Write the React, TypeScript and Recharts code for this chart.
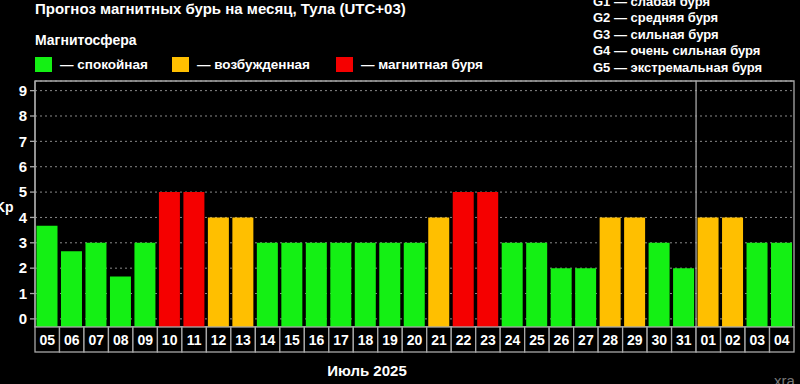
import {
  BarChart,
  Bar,
  XAxis,
  YAxis,
  CartesianGrid,
  Cell,
  ReferenceLine,
  ReferenceArea,
} from 'recharts';

const days = [
  '05', '06', '07', '08', '09', '10', '11', '12', '13', '14', '15', '16', '17', '18', '19', '20',
  '21', '22', '23', '24', '25', '26', '27', '28', '29', '30', '31', '01', '02', '03', '04',
];
const kp = [
  3.67, 2.67, 3, 1.67, 3, 5, 5, 4, 4, 3, 3, 3, 3, 3, 3, 3,
  4, 5, 5, 3, 3, 2, 2, 4, 4, 3, 2, 4, 4, 3, 3,
];
const yTicks = [0, 1, 2, 3, 4, 5, 6, 7, 8, 9];
const legendLabels = ['— спокойная', '— возбужденная', '— магнитная буря'];
const stormScale = [
  'G1 — слабая буря',
  'G2 — средняя буря',
  'G3 — сильная буря',
  'G4 — очень сильная буря',
  'G5 — экстремальная буря',
];
const monthBreakDay = '01'; // first day of the next month

const GREEN = '#14f014';
const ORANGE = '#ffbf00';
const RED = '#f50000';
const levelColors = [GREEN, ORANGE, RED];
const BORDER = '#a8a8a8';
const FONT = '"Liberation Sans", Arial, sans-serif';

const Y_MIN = -0.32;
const Y_MAX = 9.38;

const W = 800;
const H = 384;
const PLOT_LEFT = 35;
const PLOT_RIGHT = 6;
const BAND = (W - PLOT_LEFT - PLOT_RIGHT) / days.length;

document.body.style.margin = '0';

const data = days.map((day, i) => ({ day, kp: kp[i] }));

const colorFor = (v: number) => (v >= 5 ? RED : v >= 4 ? ORANGE : GREEN);

const DayTick = (props: any) => {
  const { x, y, payload } = props;
  return (
    <g>
      <rect
        x={x - BAND / 2}
        y={y}
        width={BAND}
        height={25}
        fill="#000"
        stroke={BORDER}
        strokeWidth={1.3}
      />
      <text
        x={x}
        y={y + 18}
        textAnchor="middle"
        fill="#fff"
        fontSize={14}
        fontWeight="bold"
        fontFamily={FONT}
      >
        {payload.value}
      </text>
    </g>
  );
};

export default function App() {
  return (
    <div style={{ position: 'relative', width: W, height: H, background: '#000' }}>
      <BarChart
        width={W}
        height={H}
        data={data}
        margin={{ top: 81, right: PLOT_RIGHT, left: 0, bottom: 32 }}
        barCategoryGap={1.5}
        style={{ background: '#000' }}
      >
        <CartesianGrid
          vertical={false}
          stroke="#8a8a8a"
          strokeDasharray="2 3"
          strokeWidth={1}
        />
        <XAxis
          dataKey="day"
          interval={0}
          height={25}
          tickSize={0}
          tickMargin={0}
          axisLine={false}
          tick={<DayTick />}
        />
        <YAxis
          type="number"
          domain={[Y_MIN, Y_MAX]}
          ticks={yTicks}
          allowDataOverflow
          interval={0}
          width={PLOT_LEFT}
          axisLine={{ stroke: BORDER, strokeWidth: 1.3 }}
          tickLine={{ stroke: BORDER, strokeWidth: 1.3 }}
          tickSize={5}
          tickMargin={3}
          tick={{ fill: '#fff', fontSize: 15, fontWeight: 'bold', fontFamily: FONT }}
        />
        <Bar dataKey={(d: any) => [Y_MIN, d.kp]} isAnimationActive={false}>
          {data.map((d) => (
            <Cell key={d.day} fill={colorFor(d.kp)} />
          ))}
        </Bar>
        <ReferenceArea
          y1={Y_MIN}
          y2={Y_MAX}
          fill="none"
          fillOpacity={0}
          stroke={BORDER}
          strokeWidth={1.3}
        />
        <ReferenceLine x={monthBreakDay} position="start" stroke={BORDER} strokeWidth={1.3} />
      </BarChart>
      <svg
        width={W}
        height={H}
        style={{ position: 'absolute', left: 0, top: 0, pointerEvents: 'none' }}
        fontFamily={FONT}
        fontWeight="bold"
      >
        <text x={35} y={14} fill="#fff" fontSize={15}>
          Прогноз магнитных бурь на месяц, Тула (UTC+03)
        </text>
        <text x={35} y={45} fill="#fff" fontSize={14}>
          Магнитосфера
        </text>
        {legendLabels.map((label, i) => {
          const x0 = [35, 172, 336][i];
          return (
            <g key={label}>
              <rect x={x0} y={57} width={17} height={15} fill={levelColors[i]} />
              <text x={x0 + 25} y={69} fill="#fff" fontSize={13.5}>
                {label}
              </text>
            </g>
          );
        })}
        {stormScale.map((line, i) => (
          <text key={line} x={593} y={6 + i * 16.4} fill="#fff" fontSize={13}>
            {line}
          </text>
        ))}
        <text x={-5} y={212} fill="#fff" fontSize={14}>
          Kp
        </text>
        <text x={367} y={376} fill="#fff" fontSize={15} textAnchor="middle">
          Июль 2025
        </text>
        <text x={774} y={386} fill="#777" fontSize={15} fontWeight="normal">
          xra
        </text>
      </svg>
    </div>
  );
}
